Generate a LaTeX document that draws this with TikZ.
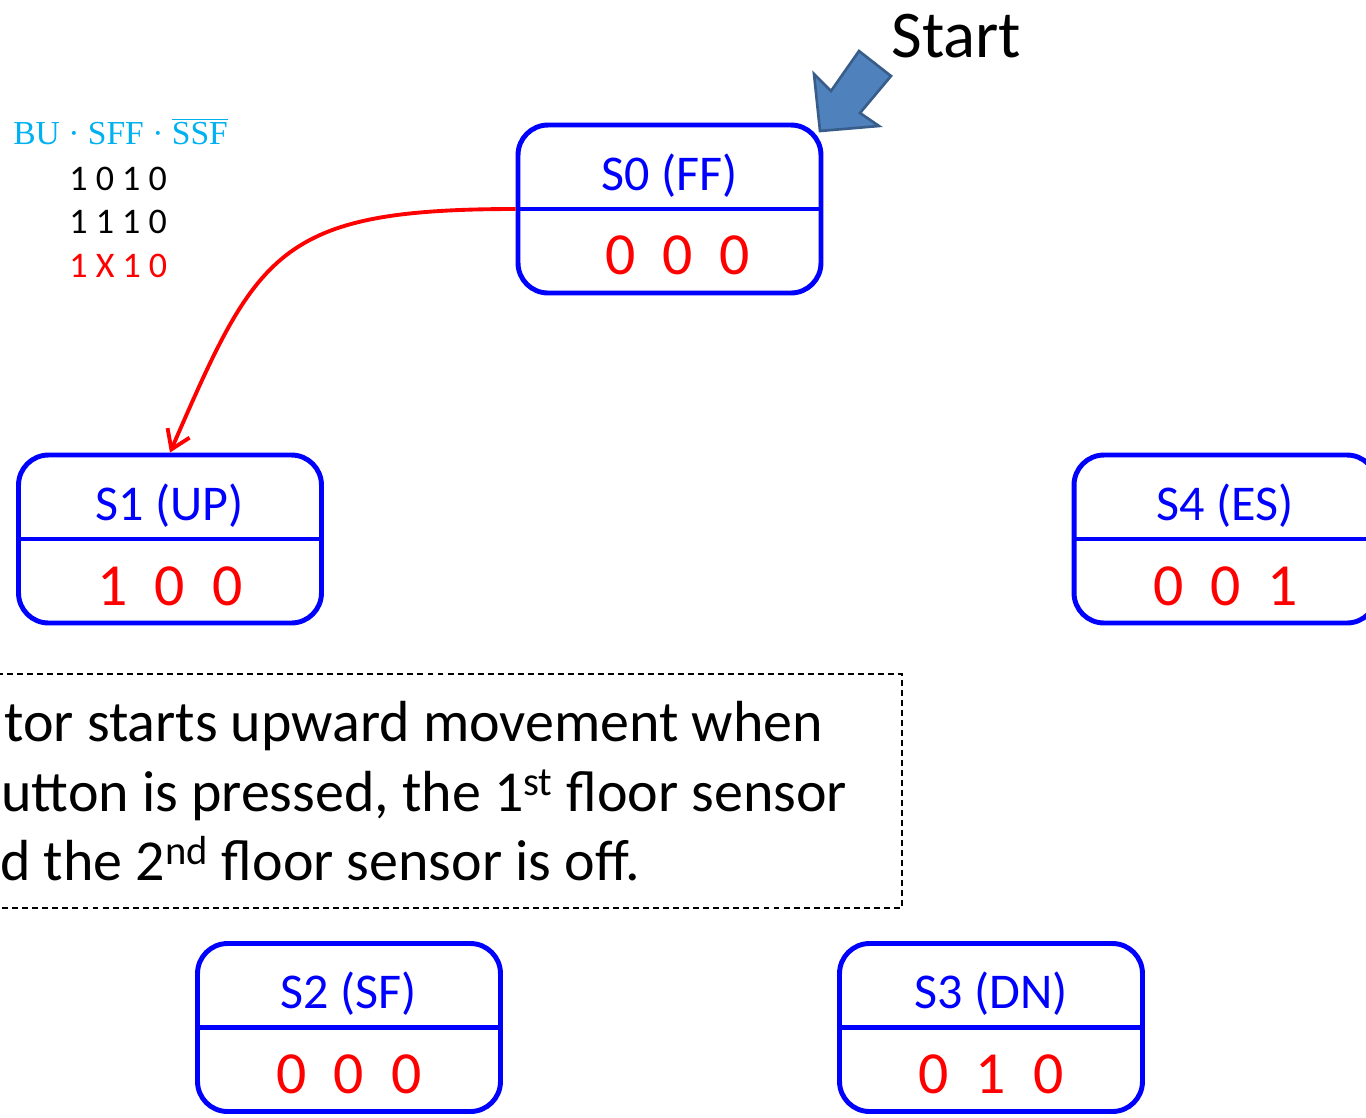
\documentclass[tikz,border=0pt]{standalone}
\usepackage{fontspec}
\setmainfont{Carlito}
\newfontfamily\eqfont{Liberation Serif}
\usetikzlibrary{arrows.meta}

\definecolor{stateblue}{RGB}{0,0,255}
\definecolor{bitred}{RGB}{255,0,0}
\definecolor{eqcyan}{RGB}{0,176,240}
\definecolor{startfill}{RGB}{79,129,189}
\definecolor{startdraw}{RGB}{56,93,138}

\tikzset{
  statebox/.style={draw=stateblue,line width=2.8pt,rounded corners=0.6cm,
    minimum width=6.06cm,minimum height=3.36cm,inner sep=0pt},
  stateline/.style={draw=stateblue,line width=2.8pt},
  statename/.style={text=stateblue,anchor=base,inner sep=0pt,
    font=\fontsize{28.5}{30}\selectfont},
  statebits/.style={text=bitred,anchor=base,inner sep=0pt,
    font=\fontsize{34}{36}\selectfont},
  transition/.style={draw=bitred,line width=2.2pt,
    -{Straight Barb[length=3.6mm,width=4.8mm]}},
  tablerow/.style={anchor=base west,inner sep=0pt,
    font=\fontsize{20.5}{22}\selectfont},
  notebox/.style={draw,dash pattern=on 3.4pt off 2.3pt,line width=1pt,
    minimum width=19cm,minimum height=4.68cm,inner sep=0pt},
  notetext/.style={anchor=base west,inner sep=0pt,
    font=\fontsize{33}{40}\selectfont}
}

\begin{document}
\begin{tikzpicture}[x=0.02cm,y=-0.02cm]
  \useasboundingbox (0,0) rectangle (1366,1117);
  \clip (0,0) rectangle (1366,1117);

  % states: name on top, outputs below the bar
  \foreach \id/\px/\py/\name/\bits/\dx in {
      s0/669.5/209/S0 (FF)/0~~0~~0/0.16cm,
      s1/170/539/S1 (UP)/1~~0~~0/0cm,
      s4/1225.5/539/S4 (ES)/0~~0~~1/0cm,
      s2/349/1027.5/S2 (SF)/0~~0~~0/0cm,
      s3/991/1027.5/S3 (DN)/0~~1~~0/0cm} {
    \node[statebox] (\id) at (\px,\py) {};
    \draw[stateline] (\id.west) -- (\id.east);
    \node[statename] (\id-name) at ([yshift=0.38cm]\id.center) {\name};
    \node[statebits] (\id-bits) at ([xshift=\dx,yshift=-1.32cm]\id.center) {\bits};
  }

  % start marker
  \draw[draw=startdraw,fill=startfill,line width=1.5pt,line join=miter]
    (820,131) -- (814,74) -- (831,91) -- (859,51) -- (891,76)
    -- (860,113) -- (879,126) -- cycle;
  \node[anchor=base west,inner sep=0pt,font=\fontsize{38}{40}\selectfont]
    (start) at (891,57) {Start};

  % condition for S0 -> S1
  \node[anchor=base west,inner sep=0pt,text=eqcyan,
    font=\eqfont\fontsize{19.1}{21}\selectfont]
    (cond) at (13,144) {BU · SFF · $\overline{\mbox{SSF}}$};
  \node[tablerow] (row1) at (69,190) {1 0 1 0};
  \node[tablerow] (row2) at (69,233) {1 1 1 0};
  \node[tablerow,text=bitred] (row3) at (69,277) {1 X 1 0};

  \draw[transition] (s0.west) .. controls (277,209) and (257,252.6) .. (s1.north);

  % explanation
  \node[notebox,anchor=north east] (note) at (903,673) {};
  \node[notetext] (line1) at (4,741) {tor starts upward movement when};
  \node[notetext] (line2) at (1,811) {utton is pressed, the 1\textsuperscript{st} floor sensor};
  \node[notetext] (line3) at (0,880) {d the 2\textsuperscript{nd} floor sensor is off.};
\end{tikzpicture}
\end{document}
